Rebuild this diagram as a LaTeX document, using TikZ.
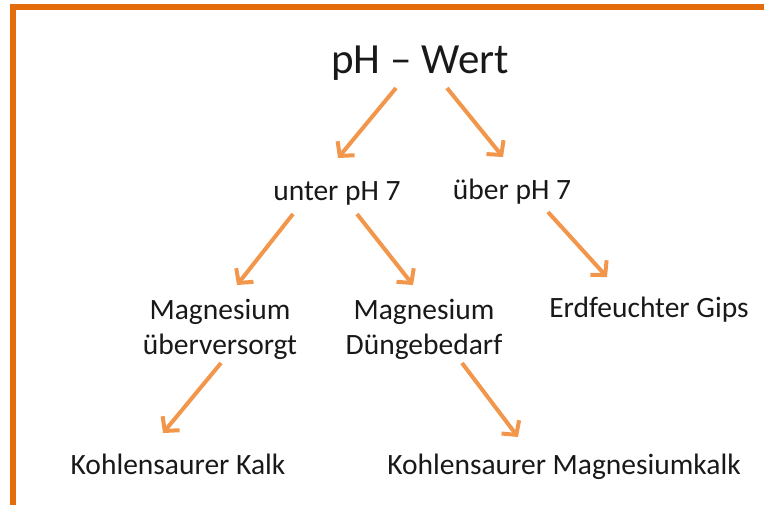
\documentclass[tikz,border=0pt]{standalone}
\usepackage{fontspec}
\setmainfont{Carlito}
\usepackage{tikz}
\usetikzlibrary{positioning,arrows.meta,calc}
\definecolor{phBorder}{RGB}{228,108,10}
\definecolor{phArrow}{RGB}{242,150,76}
\definecolor{phText}{RGB}{25,25,25}

\begin{document}
\begin{tikzpicture}[x=1pt, y=-1pt,
  lbl/.style={anchor=base, inner sep=0pt, align=center, text=phText,
    font=\fontsize{29.5}{35}\selectfont},
  arr/.style={phArrow, line width=4pt, -{Straight Barb[length=10pt,width=22pt]}}]
  \useasboundingbox (0,0) rectangle (764,504);
  \clip (0,0) rectangle (764,504);

  % Frame
  \draw[phBorder, line width=6pt] (13,6.5) rectangle (820,560);

  % Title
  \node[lbl, font=\fontsize{43}{50}\selectfont] (title) at (420,73) {pH -- Wert};

  % pH range
  \node[lbl] (unter) at (337,200) {unter pH 7};
  \node[lbl] (ueber) at (512,199) {über pH 7};

  % Magnesium level (base = last line)
  \node[lbl] (magU) at (220,354) {Magnesium\\überversorgt};
  \node[lbl] (magD) at (424,354) {Magnesium\\Düngebedarf};
  \node[lbl] (gips) at (649,317) {Erdfeuchter Gips};

  % Lime
  \node[lbl] (kalk) at (178,474) {Kohlensaurer Kalk};
  \node[lbl] (mgKalk) at (564,474) {Kohlensaurer Magnesiumkalk};

  % Arrows
  \draw[arr] ($(title.base)+(-24,15)$) -- ($(unter.base)+(1,-42)$);
  \draw[arr] ($(title.base)+(27,15)$) -- ($(ueber.base)+(-9,-42)$);
  \draw[arr] ($(unter.base)+(-44,14)$) -- ($(magU.base)+(17,-69)$);
  \draw[arr] ($(unter.base)+(20,14)$) -- ($(magD.base)+(-11,-69)$);
  \draw[arr] ($(ueber.base)+(36,13)$) -- ($(gips.base)+(-42,-40)$);
  \draw[arr] ($(magU.base)+(1,9)$) -- ($(kalk.base)+(-15,-41)$);
  \draw[arr] ($(magD.base)+(38,9)$) -- ($(mgKalk.base)+(-46,-37)$);
\end{tikzpicture}
\end{document}
